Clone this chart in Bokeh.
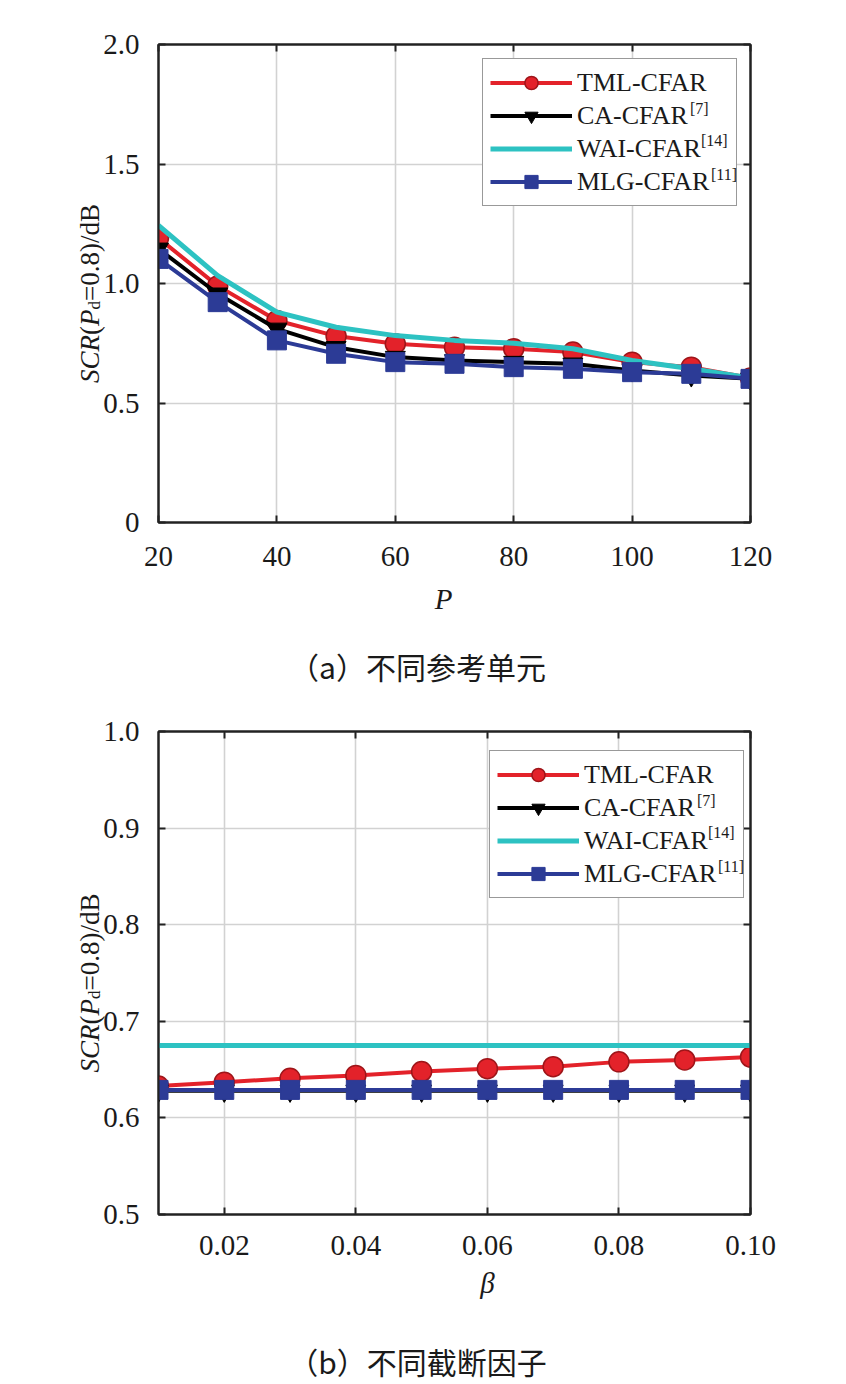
import math
from bokeh.plotting import figure
from bokeh.models import Range1d, FixedTicker, LinearAxis, Legend, LegendItem, Grid
from bokeh.layouts import column
from bokeh.embed import file_html
from bokeh.resources import INLINE
from bokeh.core.properties import value

# ---------------- data ----------------
P_vals = [20, 30, 40, 50, 60, 70, 80, 90, 100, 110, 120]
tml_a = [1.19, 0.99, 0.845, 0.78, 0.748, 0.733, 0.727, 0.713, 0.671, 0.65, 0.605]
ca_a = [1.145, 0.957, 0.81, 0.733, 0.692, 0.678, 0.671, 0.664, 0.636, 0.615, 0.601]
wai_a = [1.243, 1.033, 0.88, 0.817, 0.782, 0.762, 0.75, 0.727, 0.678, 0.643, 0.605]
mlg_a = [1.103, 0.922, 0.762, 0.706, 0.671, 0.664, 0.65, 0.643, 0.629, 0.622, 0.601]

beta_vals = [0.01, 0.02, 0.03, 0.04, 0.05, 0.06, 0.07, 0.08, 0.09, 0.10]
tml_b = [0.633, 0.637, 0.641, 0.644, 0.648, 0.651, 0.653, 0.658, 0.660, 0.663]
ca_b = [0.628, 0.628, 0.628, 0.628, 0.628, 0.628, 0.628, 0.628, 0.628, 0.628]
wai_b = [0.675, 0.675, 0.675, 0.675, 0.675, 0.675, 0.675, 0.675, 0.675, 0.675]
mlg_b = [0.629, 0.629, 0.629, 0.629, 0.629, 0.629, 0.629, 0.629, 0.629, 0.629]

series_names = ["TML-CFAR", "CA-CFAR", "WAI-CFAR", "MLG-CFAR"]
series_refs = ["", "[7]", "[14]", "[11]"]

xticks_a = [20, 40, 60, 80, 100, 120]
xlabels_a = ["20", "40", "60", "80", "100", "120"]
yticks_a = [0, 0.5, 1.0, 1.5, 2.0]
ylabels_a = ["0", "0.5", "1.0", "1.5", "2.0"]
xticks_b = [0.02, 0.04, 0.06, 0.08, 0.10]
xlabels_b = ["0.02", "0.04", "0.06", "0.08", "0.10"]
yticks_b = [0.5, 0.6, 0.7, 0.8, 0.9, 1.0]
ylabels_b = ["0.5", "0.6", "0.7", "0.8", "0.9", "1.0"]

x_titles = ["P", "β"]
captions = ["（a）不同参考单元", "（b）不同截断因子"]

# ---------------- style ----------------
SERIF = "Liberation Serif"
CJK = "Noto Sans CJK SC"
RED = "#e3222a"
RED_EDGE = "#9e1519"
BLACK = "#000000"
CYAN = "#2dc2c2"
BLUE = "#2c3b96"
INK = "#1a1a1a"
TICK_FS = "29px"
LEG_FS = 26
SUP_FS = 16
FRAME_W = 592

# Times metrics (per 1000 em, W includes the W-A kerning) used to chain composed labels
W_REG = {"(": 333, ")": 333, "=": 564, "0": 500, ".": 250, "8": 500, "/": 278,
         "d": 500, "B": 667, "T": 611, "M": 889, "L": 611, "-": 333, "C": 667,
         "F": 556, "A": 722, "R": 667, "W": 770, "I": 333, "G": 722}
W_ITA = {"S": 500, "C": 667, "R": 611, "P": 611}


def tw(s, size, italic=False):
    table = W_ITA if italic else W_REG
    return sum(table.get(c, 500) for c in s) * size / 1000.0


def make_fig(xs, ys_list, xr, yr, xticks, xlabels, yticks, ylabels,
             frame_h, b_top, b_bottom, xlab_std, xtitle, xtitle_off, caption, cap_off, leg_off):
    p = figure(frame_width=FRAME_W, frame_height=frame_h, min_border_left=158, min_border_right=96,
               min_border_top=b_top, min_border_bottom=b_bottom,
               x_range=Range1d(*xr), y_range=Range1d(*yr),
               output_backend="svg", toolbar_location=None, x_axis_type=None, y_axis_type=None)
    p.background_fill_color = "white"
    p.border_fill_color = "white"
    p.outline_line_color = "#222222"
    p.outline_line_width = 2

    def style_axis(ax, ticks, show_labels):
        ax.ticker = FixedTicker(ticks=list(ticks))
        ax.axis_line_color = "#222222"
        ax.axis_line_width = 2
        ax.major_tick_in = 7
        ax.major_tick_out = 0
        ax.major_tick_line_width = 2
        ax.major_tick_line_color = "#222222"
        ax.minor_tick_line_color = None
        if show_labels:
            ax.major_label_text_font = SERIF
            ax.major_label_text_font_size = TICK_FS
            ax.major_label_text_color = INK
        else:
            ax.major_label_text_font_size = "0px"
            ax.major_label_text_color = None

    xb, xt, yl, yrt = LinearAxis(), LinearAxis(), LinearAxis(), LinearAxis()
    style_axis(xb, xticks, True)
    style_axis(xt, xticks, False)
    style_axis(yl, yticks, True)
    style_axis(yrt, yticks, False)
    xb.major_label_overrides = {t: l for t, l in zip(xticks, xlabels)}
    xb.major_label_standoff = xlab_std
    yl.major_label_overrides = {t: l for t, l in zip(yticks, ylabels)}
    yl.major_label_standoff = 19
    p.add_layout(xb, "below")
    p.add_layout(xt, "above")
    p.add_layout(yl, "left")
    p.add_layout(yrt, "right")

    p.add_layout(Grid(dimension=0, ticker=FixedTicker(ticks=list(xticks)),
                      grid_line_color="#d2d2d2", grid_line_width=1.6), "center")
    p.add_layout(Grid(dimension=1, ticker=FixedTicker(ticks=list(yticks)),
                      grid_line_color="#d2d2d2", grid_line_width=1.6), "center")

    tml, ca, wai, mlg = ys_list
    l1 = p.line(xs, tml, line_color=RED, line_width=4)
    m1 = p.scatter(xs, tml, marker="circle", size=20, fill_color=RED, line_color=RED_EDGE, line_width=1.5)
    l2 = p.line(xs, ca, line_color=BLACK, line_width=4)
    m2 = p.scatter(xs, ca, marker="inverted_triangle", size=20, fill_color=BLACK, line_color=BLACK)
    l3 = p.line(xs, wai, line_color=CYAN, line_width=5)
    l4 = p.line(xs, mlg, line_color=BLUE, line_width=4)
    m4 = p.scatter(xs, mlg, marker="square", size=19, fill_color=BLUE, line_color=BLUE)
    ghost = p.line(x=[], y=[], line_alpha=0)  # invisible stand-in for the superscript legends

    items = [LegendItem(label=series_names[0], renderers=[l1, m1]),
             LegendItem(label=series_names[1], renderers=[l2, m2]),
             LegendItem(label=series_names[2], renderers=[l3]),
             LegendItem(label=series_names[3], renderers=[l4, m4])]
    row_h, pad, gw, std, lw = 33, 7, 82, 5, 152
    leg_h = 4 * row_h + 2 * pad
    leg_x, leg_top = leg_off
    leg = Legend(items=items, location=(leg_x, frame_h - leg_top - leg_h),
                 label_text_font=SERIF, label_text_font_size=f"{LEG_FS}px", label_text_color=INK,
                 label_height=row_h, glyph_height=row_h, glyph_width=gw, spacing=0, padding=pad, margin=0,
                 label_standoff=std, label_width=lw,
                 border_line_color="#333333", border_line_width=1.5, background_fill_alpha=1.0)
    p.add_layout(leg, "center")

    # superscript references: small glyph-less legends placed right after each label
    text_x0 = leg_x + pad + gw + std
    sup_h = 16
    for i, (nm, ref) in enumerate(zip(series_names, series_refs)):
        if not ref:
            continue
        row_c = leg_top + pad + row_h * i + row_h / 2
        sx = text_x0 + tw(nm, LEG_FS) + 1
        sy_bottom = frame_h - (row_c - 7) - sup_h / 2
        sup = Legend(items=[LegendItem(label=ref, renderers=[ghost])], location=(int(round(sx)), int(round(sy_bottom))),
                     label_text_font=SERIF, label_text_font_size=f"{SUP_FS}px", label_text_color=INK,
                     label_height=sup_h, glyph_height=sup_h, glyph_width=0, label_standoff=0,
                     label_width=10, spacing=0, padding=0, margin=0,
                     border_line_color=None, background_fill_alpha=0.0)
        p.add_layout(sup, "center")

    X0, X1 = xr
    Y0, Y1 = yr

    def txt(anchor_x, anchor_y, dx, dy, t, font, size, style="normal", align="left",
            baseline="middle", angle=0.0):
        p.text(x=[anchor_x], y=[anchor_y], text=[t], x_offset=dx, y_offset=dy, angle=angle,
               text_font=value(font), text_font_size=f"{size}px", text_font_style=style,
               text_align=align, text_baseline=baseline, text_color=INK, level="overlay")

    # composed y-axis title: SCR(P_d=0.8)/dB (offsets from the frame's bottom-left)
    F, SF = 27, 17
    pieces = [("SCR", F, "italic", 0), ("(", F, "normal", 0), ("P", F, "italic", 0),
              ("d", SF, "normal", 5), ("=0.8)/dB", F, "normal", 0)]
    total = sum(tw(t, s, st == "italic") for t, s, st, _ in pieces)
    pos = -(frame_h / 2 - 10) + total / 2
    for t, s, st, dxx in pieces:
        txt(X0, Y0, -69 + dxx, pos, t, SERIF, s, style=st, baseline="alphabetic", angle=math.pi / 2)
        pos -= tw(t, s, st == "italic")

    # x-axis title and caption
    txt(X0, Y0, xtitle_off[0], xtitle_off[1], xtitle, SERIF, 29, style="italic", align="center")
    txt(X0, Y0, cap_off[0], cap_off[1], caption, CJK, 30, align="center")
    return p


p1 = make_fig(P_vals, [tml_a, ca_a, wai_a, mlg_a], (20, 120), (0, 2.0), xticks_a, xlabels_a,
              yticks_a, ylabels_a, 478, 44, 178, 24, x_titles[0], (285, 76), captions[0], (259, 143), (324, 16))
p2 = make_fig(beta_vals, [tml_b, ca_b, wai_b, mlg_b], (0.01, 0.10), (0.5, 1.0), xticks_b, xlabels_b,
              yticks_b, ylabels_b, 483, 31, 170, 21, x_titles[1], (329, 68), captions[1], (259, 146), (331, 21))

page = column(p1, p2, spacing=0)
open("out.html", "w").write(file_html(page, INLINE))
